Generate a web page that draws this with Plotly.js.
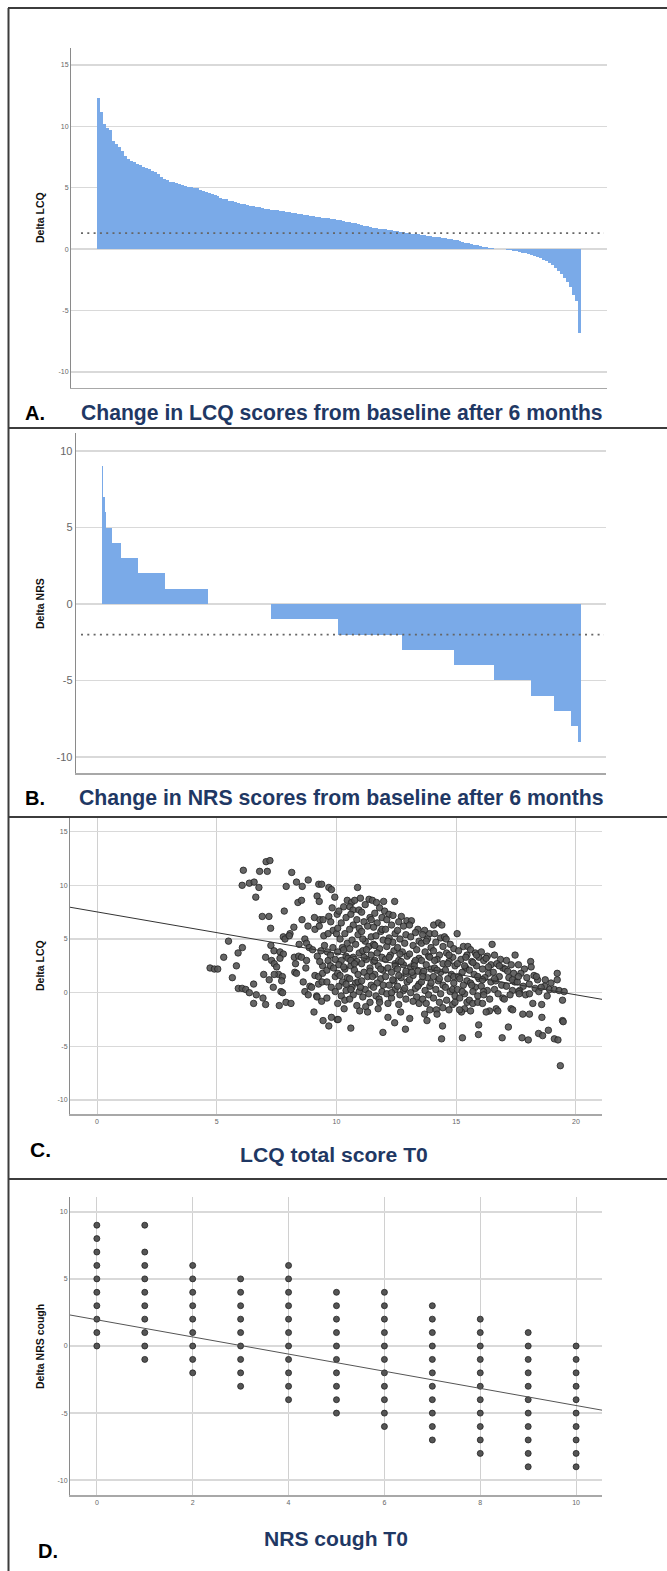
<!DOCTYPE html>
<html><head><meta charset="utf-8">
<script src="https://cdn.plot.ly/plotly-3.0.1.min.js"></script>
<style>html,body{margin:0;padding:0;background:#fff;}#chart{width:667px;height:1571px;}</style>
</head><body><div id="chart"></div>
<script>
// ---------- DATA ----------
// Panel A: sorted change in LCQ (waterfall)
const lcqDeltaSorted = [12.3,11.2,10.2,9.9,9.7,8.8,8.55,8.35,8.0,7.6,
7.35,7.2,7.1,6.95,6.85,6.7,6.6,6.5,6.35,6.25,
6.1,5.85,5.7,5.6,5.5,5.45,5.4,5.3,5.25,5.15,
5.1,5.05,5.0,4.95,4.85,4.75,4.65,4.6,4.5,4.4,
4.3,4.2,4.1,4.05,3.95,3.9,3.85,3.75,3.7,3.65,
3.6,3.55,3.5,3.45,3.4,3.35,3.3,3.28,3.22,3.2,
3.15,3.12,3.08,3.05,3.0,2.97,2.92,2.88,2.83,2.78,
2.75,2.7,2.67,2.63,2.6,2.56,2.53,2.5,2.46,2.42,
2.38,2.35,2.3,2.25,2.2,2.15,2.1,2.03,1.97,1.9,
1.85,1.8,1.76,1.72,1.68,1.65,1.6,1.57,1.53,1.5,
1.46,1.42,1.38,1.34,1.3,1.27,1.24,1.2,1.17,1.13,
1.09,1.05,1.02,0.98,0.95,0.92,0.88,0.84,0.8,0.76,
0.72,0.66,0.6,0.54,0.48,0.42,0.36,0.3,0.25,0.2,
0.15,0.1,0.07,0.04,0.02,0.0,-0.02,-0.05,-0.08,-0.11,
-0.15,-0.22,-0.29,-0.35,-0.42,-0.5,-0.58,-0.66,-0.76,-0.86,
-1.0,-1.15,-1.33,-1.52,-1.75,-2.0,-2.35,-2.7,-3.1,-3.7,
-4.2,-6.8];
const lcqMcid = 1.3;

// Panel B: change in NRS, value and number of patients
const nrsDeltaValues = [9,7,6,5,4,3,2,1,0,-1,-2,-3,-4,-5,-6,-7,-8,-9];
const nrsDeltaCounts = [2,2,2,9,12,25,38,61,90,97,91,75,57,52,33,24,10,5];
const nrsMcid = -2;

// Panel C: LCQ total score T0 vs Delta LCQ
const lcqPoints = [
[4.72,2.3],[4.9,2.2],[5.04,2.2],[5.29,3.3],[5.49,4.8],[5.65,1.4],[5.82,2.5],[5.89,3.7],[6.07,4.2],[5.9,0.4],
[6.06,0.4],[6.21,0.3],[6.36,0.0],[6.54,0.8],[6.54,-1.0],[6.65,-0.2],[6.93,-0.5],[7.04,-1.1],[6.96,1.7],[7.04,3.3],
[7.19,1.2],[7.26,4.4],[7.39,3.9],[7.25,6.0],[6.9,7.1],[7.18,7.1],[6.11,11.4],[6.06,10.0],[6.36,10.2],[6.56,10.3],
[6.76,9.8],[6.63,8.9],[6.79,11.3],[7.11,11.3],[7.06,12.2],[7.22,12.3],[7.82,7.6],[7.9,9.9],[8.13,11.2],[8.22,6.1],
[8.33,10.3],[8.57,9.9],[8.82,10.5],[8.39,8.4],[8.54,8.6],[8.56,6.8],[8.81,6.2],[9.08,7.0],[9.31,6.8],[9.44,6.8],
[9.1,5.9],[9.28,6.2],[9.19,9.0],[9.28,8.5],[9.26,10.1],[9.38,10.1],[9.68,9.8],[9.79,9.6],[9.93,8.9],[9.82,7.9],
[10.03,7.3],[9.68,7.1],[9.76,6.6],[9.47,5.3],[9.65,5.5],[9.86,5.8],[10.0,5.5],[7.64,3.8],[7.78,3.6],[7.78,5.2],
[7.85,5.0],[8.06,5.5],[8.03,5.3],[8.44,4.5],[8.68,5.0],[8.75,4.6],[8.86,4.2],[7.29,3.0],[7.4,2.7],[7.64,3.2],
[7.5,2.4],[7.58,1.7],[7.74,1.5],[7.71,1.1],[7.36,0.5],[7.4,1.7],[7.68,0.1],[7.75,0.0],[7.61,-1.2],[7.89,-0.9],
[8.1,-1.0],[8.26,1.9],[8.33,1.8],[8.24,3.3],[8.42,3.4],[8.54,3.3],[8.75,3.0],[8.29,2.7],[8.72,2.3],[8.61,1.0],
[8.68,0.1],[8.82,-0.2],[8.89,0.6],[8.96,0.5],[9.17,-0.3],[9.19,-0.4],[9.38,-0.8],[9.6,-0.5],[9.06,-1.8],[9.44,-2.6],
[9.68,-3.1],[9.79,-2.3],[10.03,-2.5],
[9.2,3.4],[9.35,3.9],[9.42,2.5],[9.62,3.8],[9.65,3.0],[9.75,3.5],[9.85,4.2],[9.95,3.1],[9.1,1.6],[9.25,1.5],
[9.42,1.8],[9.6,2.1],[9.75,2.5],[9.88,2.3],[9.95,1.5],[9.25,0.8],[9.4,1.0],[9.6,1.0],[9.78,0.5],[9.95,0.1],
[9.0,4.0],[9.5,4.4],[9.3,2.9],
[10.45,8.6],[10.3,8.0],[10.1,7.6],[10.4,7.0],[10.2,6.5],[10.05,6.0],[10.35,5.5],[10.15,5.0],[10.45,4.6],[10.25,4.2],
[10.05,3.8],[10.4,3.4],[10.2,3.0],[10.1,2.6],[10.35,2.2],[10.05,1.8],[10.45,1.4],[10.25,1.0],[10.1,0.6],[10.4,0.2],
[10.2,-0.3],[10.35,-0.7],[10.05,-1.0],[10.32,-1.5],[10.3,4.0],[10.48,3.2],[10.3,2.4],[10.15,1.6],[10.4,0.8],[10.07,-2.5],
[10.88,9.8],[10.63,8.4],[10.76,8.6],[10.56,8.0],[10.69,7.7],[10.94,7.7],[10.6,7.3],[10.85,6.8],[10.7,6.3],[10.55,5.9],
[10.9,5.4],[10.65,4.9],[10.8,4.5],[10.55,4.1],[10.95,3.7],[10.7,3.3],[10.85,2.9],[10.6,2.5],[10.75,2.1],[10.9,1.7],
[10.55,1.3],[10.8,0.9],[10.65,0.5],[10.95,0.1],[10.7,-0.2],[10.55,-0.6],[10.85,-1.2],[10.6,-3.3],[10.97,-1.7],[10.95,6.0],
[10.6,3.0],[10.9,1.0],[10.75,2.7],[10.6,0.3],
[11.0,8.8],[11.36,8.7],[11.2,8.2],[11.05,7.5],[11.4,7.0],[11.15,6.6],[11.3,6.2],[11.05,5.7],[11.45,5.2],[11.2,4.8],
[11.35,4.3],[11.1,3.9],[11.45,3.5],[11.25,3.1],[11.05,2.7],[11.4,2.3],[11.15,1.9],[11.3,1.5],[11.05,1.1],[11.45,0.7],
[11.2,0.3],[11.35,-0.1],[11.1,-0.4],[11.4,-0.9],[11.22,-1.3],[11.3,-1.8],[11.1,5.0],[11.15,3.3],[11.4,2.0],[11.0,0.5],
[11.25,4.0],[11.45,6.8],
[11.5,8.6],[11.67,8.4],[11.97,8.5],[11.8,7.9],[11.6,7.4],[11.9,7.0],[11.7,6.5],[11.55,6.1],[11.85,5.7],[11.65,5.3],
[11.95,4.9],[11.55,4.5],[11.8,4.1],[11.7,3.7],[11.9,3.3],[11.55,2.9],[11.75,2.5],[11.95,2.1],[11.6,1.7],[11.85,1.3],
[11.7,0.9],[11.55,0.5],[11.9,0.1],[11.65,-0.3],[11.78,-0.6],[11.8,-0.9],[11.74,-1.5],[11.94,-3.7],[11.6,3.0],[11.85,2.2],
[11.5,1.5],[11.95,0.7],[11.6,4.4],[11.9,5.9],
[12.43,8.5],[12.01,7.6],[12.19,7.3],[12.36,7.2],[12.1,6.8],[12.3,6.3],[12.05,5.9],[12.45,5.5],[12.2,5.1],[12.35,4.7],
[12.1,4.3],[12.4,3.9],[12.25,3.5],[12.05,3.1],[12.45,2.7],[12.15,2.3],[12.3,1.9],[12.05,1.5],[12.4,1.1],[12.2,0.7],
[12.45,0.3],[12.1,-0.1],[12.3,-0.5],[12.15,-1.0],[12.43,-2.8],[12.15,-2.3],[12.2,3.3],[12.45,2.5],[12.35,1.2],[12.3,0.0],
[12.15,4.8],
[12.71,7.1],[12.94,6.7],[12.6,6.6],[12.8,6.2],[12.55,5.8],[12.9,5.4],[12.65,5.0],[12.85,4.6],[12.55,4.2],[12.75,3.8],
[12.95,3.4],[12.6,3.0],[12.8,2.6],[12.55,2.2],[12.9,1.8],[12.7,1.4],[12.95,1.0],[12.55,0.6],[12.8,0.2],[12.65,-0.2],
[12.9,-0.6],[12.6,-1.1],[12.68,-1.8],[12.88,-3.4],[12.7,2.9],[12.6,1.6],[12.85,0.4],[12.65,3.6],[12.9,2.0],
[13.13,6.7],[13.4,5.9],[13.05,6.3],[13.3,5.6],[13.1,5.2],[13.45,4.8],[13.2,4.4],[13.35,4.0],[13.05,3.6],[13.45,3.2],
[13.25,2.8],[13.1,2.4],[13.4,2.0],[13.2,1.6],[13.05,1.2],[13.45,0.8],[13.3,0.4],[13.1,0.0],[13.35,-0.4],[13.2,-0.8],
[13.45,-1.0],[13.06,-2.4],[13.3,3.0],[13.15,1.9],[13.4,0.6],[13.25,2.5],
[13.68,5.8],[13.89,5.5],[13.6,5.4],[13.8,5.0],[13.55,4.6],[13.95,4.2],[13.7,3.8],[13.85,3.4],[13.55,3.0],[13.75,2.6],
[13.95,2.2],[13.6,1.8],[13.8,1.4],[13.55,1.0],[13.9,0.6],[13.7,0.2],[13.85,-0.2],[13.6,-0.6],[13.75,-1.0],[13.68,-2.0],
[13.78,-2.6],[13.9,-1.6],[13.9,3.3],[13.65,2.0],[13.95,0.9],[13.6,1.5],[13.75,4.8],
[14.06,6.3],[14.26,6.5],[14.4,6.3],[14.1,5.5],[14.35,5.1],[14.15,4.7],[14.45,4.3],[14.05,3.9],[14.3,3.5],[14.2,3.1],
[14.45,2.7],[14.1,2.3],[14.35,1.9],[14.05,1.5],[14.25,1.1],[14.45,0.7],[14.15,0.3],[14.35,-0.1],[14.05,-0.5],[14.3,-0.9],
[14.44,-1.4],[14.17,-1.6],[14.2,-2.0],[14.43,-3.1],[14.39,-4.3],[14.1,3.0],[14.3,1.3],[14.2,2.1],
[14.51,5.2],[14.58,5.0],[14.75,4.5],[14.9,4.1],[14.6,3.7],[14.85,3.3],[14.7,2.9],[14.95,2.5],[14.55,2.1],[14.8,1.7],
[14.65,1.3],[14.9,0.9],[14.55,0.5],[14.75,0.1],[14.95,-0.3],[14.6,-0.7],[14.85,-1.1],[14.7,-1.6],[14.95,-0.9],[14.65,2.7],
[14.9,1.5],[14.7,3.5],[14.85,0.3],
[15.04,5.5],[15.3,4.3],[15.1,3.9],[15.45,3.5],[15.2,3.1],[15.05,2.7],[15.4,2.3],[15.25,1.9],[15.1,1.5],[15.45,1.1],
[15.3,0.7],[15.05,0.3],[15.35,-0.1],[15.15,-0.5],[15.45,-0.9],[15.35,-1.5],[15.22,-1.8],[15.14,-1.6],[15.26,-4.2],[15.35,2.5],
[15.15,1.3],[15.25,0.1],[15.4,3.3],
[15.49,4.3],[15.6,4.0],[15.8,3.7],[15.95,3.3],[15.65,2.9],[15.85,2.5],[15.55,2.1],[15.75,1.7],[15.95,1.3],[15.6,0.9],
[15.8,0.5],[15.7,0.1],[15.9,-0.3],[15.55,-0.7],[15.69,-1.0],[15.9,-0.9],[15.6,-1.7],[15.94,-3.0],[15.93,-3.9],[15.7,2.8],
[15.9,1.5],[15.65,0.7],[15.85,3.5],
[16.05,3.8],[16.3,3.4],[16.15,3.0],[16.45,2.6],[16.1,2.2],[16.35,1.8],[16.2,1.4],[16.45,1.0],[16.05,0.6],[16.3,0.2],
[16.14,0.1],[16.15,-0.2],[16.4,-0.6],[16.1,-1.0],[16.39,-1.7],[16.25,-1.8],[16.35,2.4],[16.1,1.2],[16.25,3.2],[16.5,4.5],
[16.6,3.5],[16.85,3.1],[16.7,2.7],[16.95,2.3],[16.55,1.9],[16.8,1.5],[16.65,1.1],[16.9,0.7],[16.6,0.3],[16.75,-0.1],
[16.95,-0.5],[16.67,-1.5],[16.74,-1.7],[16.92,-4.2],[16.8,2.5],[16.6,1.3],
[17.46,3.5],[17.1,3.0],[17.3,2.6],[17.05,2.2],[17.4,1.8],[17.2,1.4],[17.45,1.0],[17.1,0.6],[17.35,0.2],[17.01,-0.6],
[17.25,-0.2],[17.18,-3.2],[17.29,-1.5],[17.36,-1.6],[17.15,2.0],[17.35,1.2],
[17.6,2.6],[17.85,2.2],[17.7,1.8],[17.95,1.4],[17.55,1.0],[17.8,0.6],[17.65,0.2],[17.9,-0.2],[17.61,0.1],[17.63,-0.1],
[17.78,-2.0],[17.75,-4.2],[17.6,1.5],
[18.11,2.9],[18.13,2.4],[18.25,1.6],[18.4,1.2],[18.05,0.8],[18.3,0.4],[18.45,0.1],[18.06,-0.1],[18.06,-2.0],[18.01,-4.4],
[18.44,-3.8],[18.2,-1.0],[18.35,1.5],
[18.72,1.2],[18.96,0.9],[18.57,-1.1],[18.58,-2.3],[18.61,-4.0],[18.85,-3.5],[18.7,0.6],[18.9,0.3],[18.55,0.5],[18.8,-0.3],
[19.22,1.8],[19.22,1.2],[19.1,0.3],[19.3,0.2],[19.1,-4.3],[19.44,-0.7],[19.44,-2.6],[19.47,-2.7],[19.35,-6.8],[19.25,-4.4],
[19.51,0.1]
];
const lcqFitX = [-1.13, 21.09];
const lcqFitY = [7.96, -0.62];

// Panel D: NRS cough T0 vs Delta NRS cough
const nrsCoughT0 = [0,1,2,3,4,5,6,7,8,9,10];
const nrsCoughDelta = [
 [9,8,7,6,5,4,3,2,1,0],
 [9,7,6,5,4,3,2,1,0,-1],
 [6,5,4,3,2,1,0,-1,-2],
 [5,4,3,2,1,0,-1,-2,-3],
 [6,5,4,3,2,1,0,-1,-2,-3,-4],
 [4,3,2,1,0,-1,-2,-3,-4,-5],
 [4,3,2,1,0,-1,-2,-3,-4,-5,-6],
 [3,2,1,0,-1,-2,-3,-4,-5,-6,-7],
 [2,1,0,-1,-2,-3,-4,-5,-6,-7,-8],
 [1,0,-1,-2,-3,-4,-5,-6,-7,-8,-9],
 [0,-1,-2,-3,-4,-5,-6,-7,-8,-9]
];
const nrsFitX = [-0.56, 10.54];
const nrsFitY = [2.31, -4.78];

// Tick labels
const yTicksLCQ = [-10,-5,0,5,10,15];
const yTicksNRS = [-10,-5,0,5,10];
const xTicksLCQ = [0,5,10,15,20];
const xTicksNRS = [0,2,4,6,8,10];
const lab = v => v.map(t => String(t));

// ---------- LAYOUT HELPERS ----------
const W = 667, H = 1571;
const px = x => x / W;
const py = y => 1 - y / H;

const cv = document.createElement('canvas').getContext('2d');
function fitSize(text, family, target, base) {
  cv.font = 'bold ' + base + 'px ' + family;
  const w = cv.measureText(text).width;
  return base * target / w;
}
const TITLE_FAM = "'Liberation Sans Narrow', 'Liberation Sans', Arial, sans-serif";
const SANS = "'Liberation Sans', Arial, sans-serif";
const navy = '#1f3864';

// Panel A bars
const nA = lcqDeltaSorted.length;
const idxA = lcqDeltaSorted.map((_, i) => i);
const unitA = (581 - 97) / nA;
const rangeAx = [-0.5 - (97 - 71) / unitA, nA - 0.5 + (607 - 581) / unitA];

// Panel B bars (expanded from counts)
const barsB = [];
nrsDeltaValues.forEach((v, k) => { for (let j = 0; j < nrsDeltaCounts[k]; j++) barsB.push(v); });
const nB = barsB.length;
const idxB = barsB.map((_, i) => i);
const unitB = (581 - 102) / nB;
const rangeBx = [-0.5 - (102 - 75.7) / unitB, nB - 0.5 + (606 - 581) / unitB];

// Panel D scatter expanded
const dX = [], dY = [];
nrsCoughT0.forEach((x, k) => nrsCoughDelta[k].forEach(y => { dX.push(x); dY.push(y); }));

const barColor = '#7aaae8';
const gridC = '#d9d9d9';
const tickC = '#666';

const traces = [
  {type:'bar', x: idxA, y: lcqDeltaSorted, xaxis:'x', yaxis:'y', marker:{color:barColor, line:{width:0}}, hoverinfo:'skip'},
  {type:'bar', x: idxB, y: barsB, xaxis:'x2', yaxis:'y2', marker:{color:barColor, line:{width:0}}, hoverinfo:'skip'},
  {type:'scatter', mode:'markers', x: lcqPoints.map(p=>p[0]), y: lcqPoints.map(p=>p[1]), xaxis:'x3', yaxis:'y3',
   marker:{size:6.5, color:'rgba(85,85,85,0.9)', line:{color:'#222', width:0.8}}, hoverinfo:'skip'},
  {type:'scatter', mode:'lines', x: lcqFitX, y: lcqFitY, xaxis:'x3', yaxis:'y3', line:{color:'#333', width:1}, hoverinfo:'skip'},
  {type:'scatter', mode:'markers', x: dX, y: dY, xaxis:'x4', yaxis:'y4',
   marker:{size:6, color:'#555', line:{color:'#222', width:0.8}}, hoverinfo:'skip'},
  {type:'scatter', mode:'lines', x: nrsFitX, y: nrsFitY, xaxis:'x4', yaxis:'y4', line:{color:'#555', width:1}, hoverinfo:'skip'}
];

function yax(dom, range, ticks, fs, anchor) {
  return {domain: dom, range: range, anchor: anchor, tickmode:'array', tickvals: ticks, ticktext: lab(ticks),
    tickfont:{size:fs, color:tickC, family:SANS}, showgrid:true, gridcolor:gridC, gridwidth:1.5,
    zeroline:false, showline:true, linecolor:'#8a8a8a', linewidth:1, ticks:'', fixedrange:true};
}
function xaxBar(dom, range, anchor) {
  return {domain: dom, range: range, anchor: anchor, showgrid:false, zeroline:false, showticklabels:false,
    showline:true, linecolor:'#a8a8a8', linewidth:1.5, ticks:'', fixedrange:true};
}
function xaxSc(dom, range, ticks, anchor) {
  return {domain: dom, range: range, anchor: anchor, tickmode:'array', tickvals: ticks, ticktext: lab(ticks),
    tickfont:{size:7, color:tickC, family:SANS}, showgrid:true, gridcolor:'#d0d0d0', gridwidth:1,
    zeroline:false, showline:true, linecolor:'#a8a8a8', linewidth:1.5, ticks:'', fixedrange:true};
}

const frame = '#3c3c3c';
const shapes = [
  {type:'line', xref:'paper', yref:'paper', x0:px(8), x1:1, y0:py(8), y1:py(8), line:{color:frame, width:2}},
  {type:'line', xref:'paper', yref:'paper', x0:px(8.5), x1:px(8.5), y0:py(8), y1:0, line:{color:frame, width:2}},
  {type:'line', xref:'paper', yref:'paper', x0:px(8), x1:1, y0:py(428), y1:py(428), line:{color:frame, width:2}},
  {type:'line', xref:'paper', yref:'paper', x0:px(8), x1:1, y0:py(817), y1:py(817), line:{color:frame, width:2}},
  {type:'line', xref:'paper', yref:'paper', x0:px(8), x1:1, y0:py(1179), y1:py(1179), line:{color:frame, width:2}},
  {type:'line', xref:'x domain', yref:'y', x0:(81-71)/536, x1:(604-71)/536, y0:lcqMcid, y1:lcqMcid,
   line:{color:'#666', width:1.8, dash:'2px,4.3px'}},
  {type:'line', xref:'x2 domain', yref:'y2', x0:(81-75.7)/530.3, x1:(604-75.7)/530.3, y0:nrsMcid, y1:nrsMcid,
   line:{color:'#666', width:1.8, dash:'2px,4.3px'}}
];

function ann(text, x, y, size, color, fam, angle) {
  return {text: text, xref:'paper', yref:'paper', x: px(x), y: py(y), xanchor:'center', yanchor:'middle',
    showarrow:false, textangle: angle || 0, font:{size:size, color:color, family:fam, weight:'bold'}};
}
const tA = 'Change in LCQ scores from baseline after 6 months';
const tB = 'Change in NRS scores from baseline after 6 months';
const tC = 'LCQ total score T0';
const tD = 'NRS cough T0';
const annotations = [
  ann('A.', 35, 413, 20, '#000', SANS),
  ann(tA, 342, 413, fitSize(tA, TITLE_FAM, 522, 20), navy, TITLE_FAM),
  ann('B.', 35, 798, 20, '#000', SANS),
  ann(tB, 341, 798, fitSize(tB, TITLE_FAM, 525, 20), navy, TITLE_FAM),
  ann('C.', 40, 1149, 21, '#000', SANS),
  ann(tC, 334, 1154, fitSize(tC, TITLE_FAM, 188, 20), navy, TITLE_FAM),
  ann('D.', 48, 1551, 20, '#000', SANS),
  ann(tD, 336, 1538, fitSize(tD, TITLE_FAM, 144, 20), navy, TITLE_FAM),
  ann('Delta LCQ', 40, 218, 10.5, '#111', SANS, -90),
  ann('Delta NRS', 40, 604, 10.5, '#111', SANS, -90),
  ann('Delta LCQ', 40, 966, 10.5, '#111', SANS, -90),
  ann('Delta NRS cough', 40, 1347, 10.5, '#111', SANS, -90)
];

const layout = {
  width: W, height: H, margin:{l:0, r:0, t:0, b:0}, paper_bgcolor:'#fff', plot_bgcolor:'rgba(0,0,0,0)',
  showlegend:false, bargap:0, font:{family:SANS},
  xaxis: xaxBar([px(71), px(607)], rangeAx, 'y'),
  yaxis: yax([py(387.7), py(47.7)], [-11.28, 16.4], yTicksLCQ, 7, 'x'),
  xaxis2: xaxBar([px(75.7), px(606)], rangeBx, 'y2'),
  yaxis2: yax([py(773), py(433)], [-11.05, 11.18], yTicksNRS, 11, 'x2'),
  xaxis3: xaxSc([px(70), px(602)], [-1.13, 21.09], xTicksLCQ, 'y3'),
  yaxis3: yax([py(1114), py(818)], [-11.3, 16.27], yTicksLCQ, 7, 'x3'),
  xaxis4: xaxSc([px(70), px(602)], [-0.56, 10.54], xTicksNRS, 'y4'),
  yaxis4: yax([py(1495), py(1197)], [-11.1, 11.1], yTicksNRS, 7, 'x4'),
  shapes: shapes, annotations: annotations
};

Plotly.newPlot('chart', traces, layout, {staticPlot:true, displayModeBar:false});
</script></body></html>
